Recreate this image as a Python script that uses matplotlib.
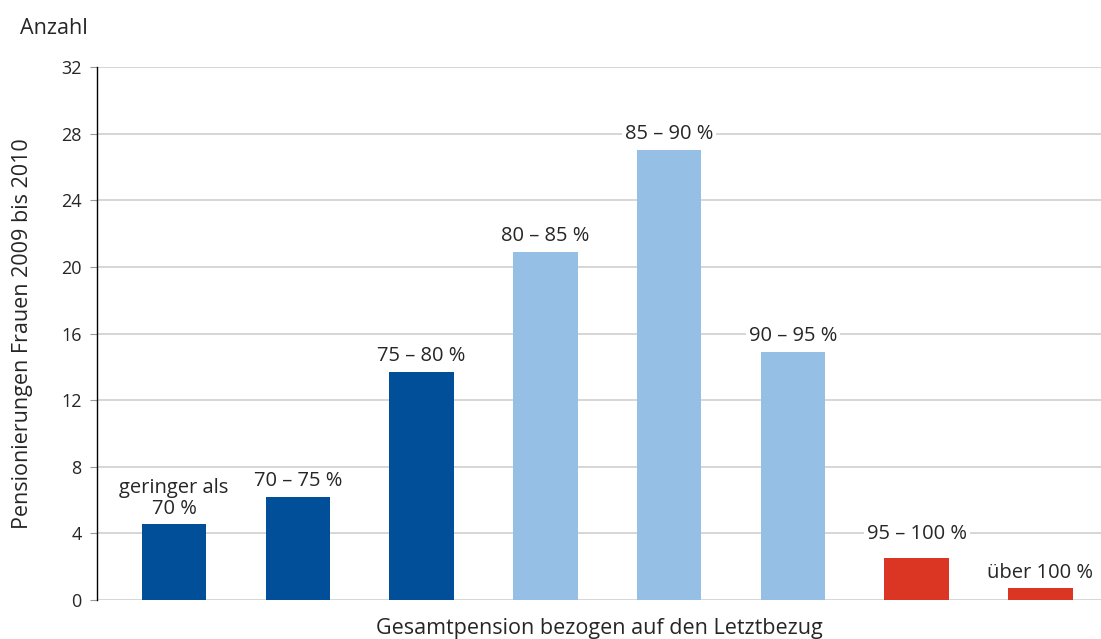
import numpy as np
import matplotlib.pyplot as plt

plt.rcParams['font.family'] = ['Open Sans', 'DejaVu Sans']

# Pensionierungen Frauen 2009 bis 2010 nach Verhältnis Gesamtpension / Letztbezug
categories = ['geringer als\n70 %', '70 – 75 %', '75 – 80 %', '80 – 85 %',
              '85 – 90 %', '90 – 95 %', '95 – 100 %', 'über 100 %']
counts = [4.55, 6.2, 13.7, 20.9, 27.05, 14.9, 2.5, 0.7]
groups = ['low', 'low', 'low', 'mid', 'mid', 'mid', 'high', 'high']
yticks = [0, 4, 8, 12, 16, 20, 24, 28, 32]

colors = {'low': '#004f98', 'mid': '#96bfe6', 'high': '#db3623'}
text_col = '#262626'

fig = plt.figure(figsize=(11.01, 6.39), dpi=100)
ax = fig.add_axes([0.0881, 0.061, 0.9119, 0.834])

x = np.arange(len(categories))
ax.bar(x, counts, width=0.52, color=[colors[g] for g in groups], zorder=2)

# category labels sit above the bars with a white box cutting the grid
for xi, val, lab in zip(x, counts, categories):
    off = 10 if lab == '95 – 100 %' else 4
    ax.annotate(lab, (xi, val), xytext=(0, off), textcoords='offset points',
                ha='center', va='bottom', fontsize=14.5, color=text_col,
                linespacing=1.05, zorder=3,
                bbox=dict(boxstyle='square,pad=0.15', fc='white', ec='none'))

ax.set_xlim(-0.623, 7.49)
ax.set_ylim(0, 32)
ax.set_yticks(yticks)
ax.set_xticks([])
ax.yaxis.grid(True, color='#cfcfcf', linewidth=1.2, zorder=0)
ax.set_axisbelow(True)

for side in ['top', 'right', 'bottom']:
    ax.spines[side].set_visible(False)
ax.spines['left'].set_color('black')
ax.spines['left'].set_linewidth(1.0)
ax.tick_params(axis='y', length=5, width=0.8, color='#999999', pad=6,
               labelsize=13, labelcolor=text_col)

ax.set_xlabel('Gesamtpension bezogen auf den Letztbezug', fontsize=15.5,
              color=text_col, labelpad=13)
ax.set_ylabel('Pensionierungen Frauen 2009 bis 2010', fontsize=15.5,
              color=text_col, labelpad=20)
fig.text(0.018, 0.955, 'Anzahl', fontsize=15.5, color=text_col,
         ha='left', va='center')

fig.savefig('out.png', dpi=100)
